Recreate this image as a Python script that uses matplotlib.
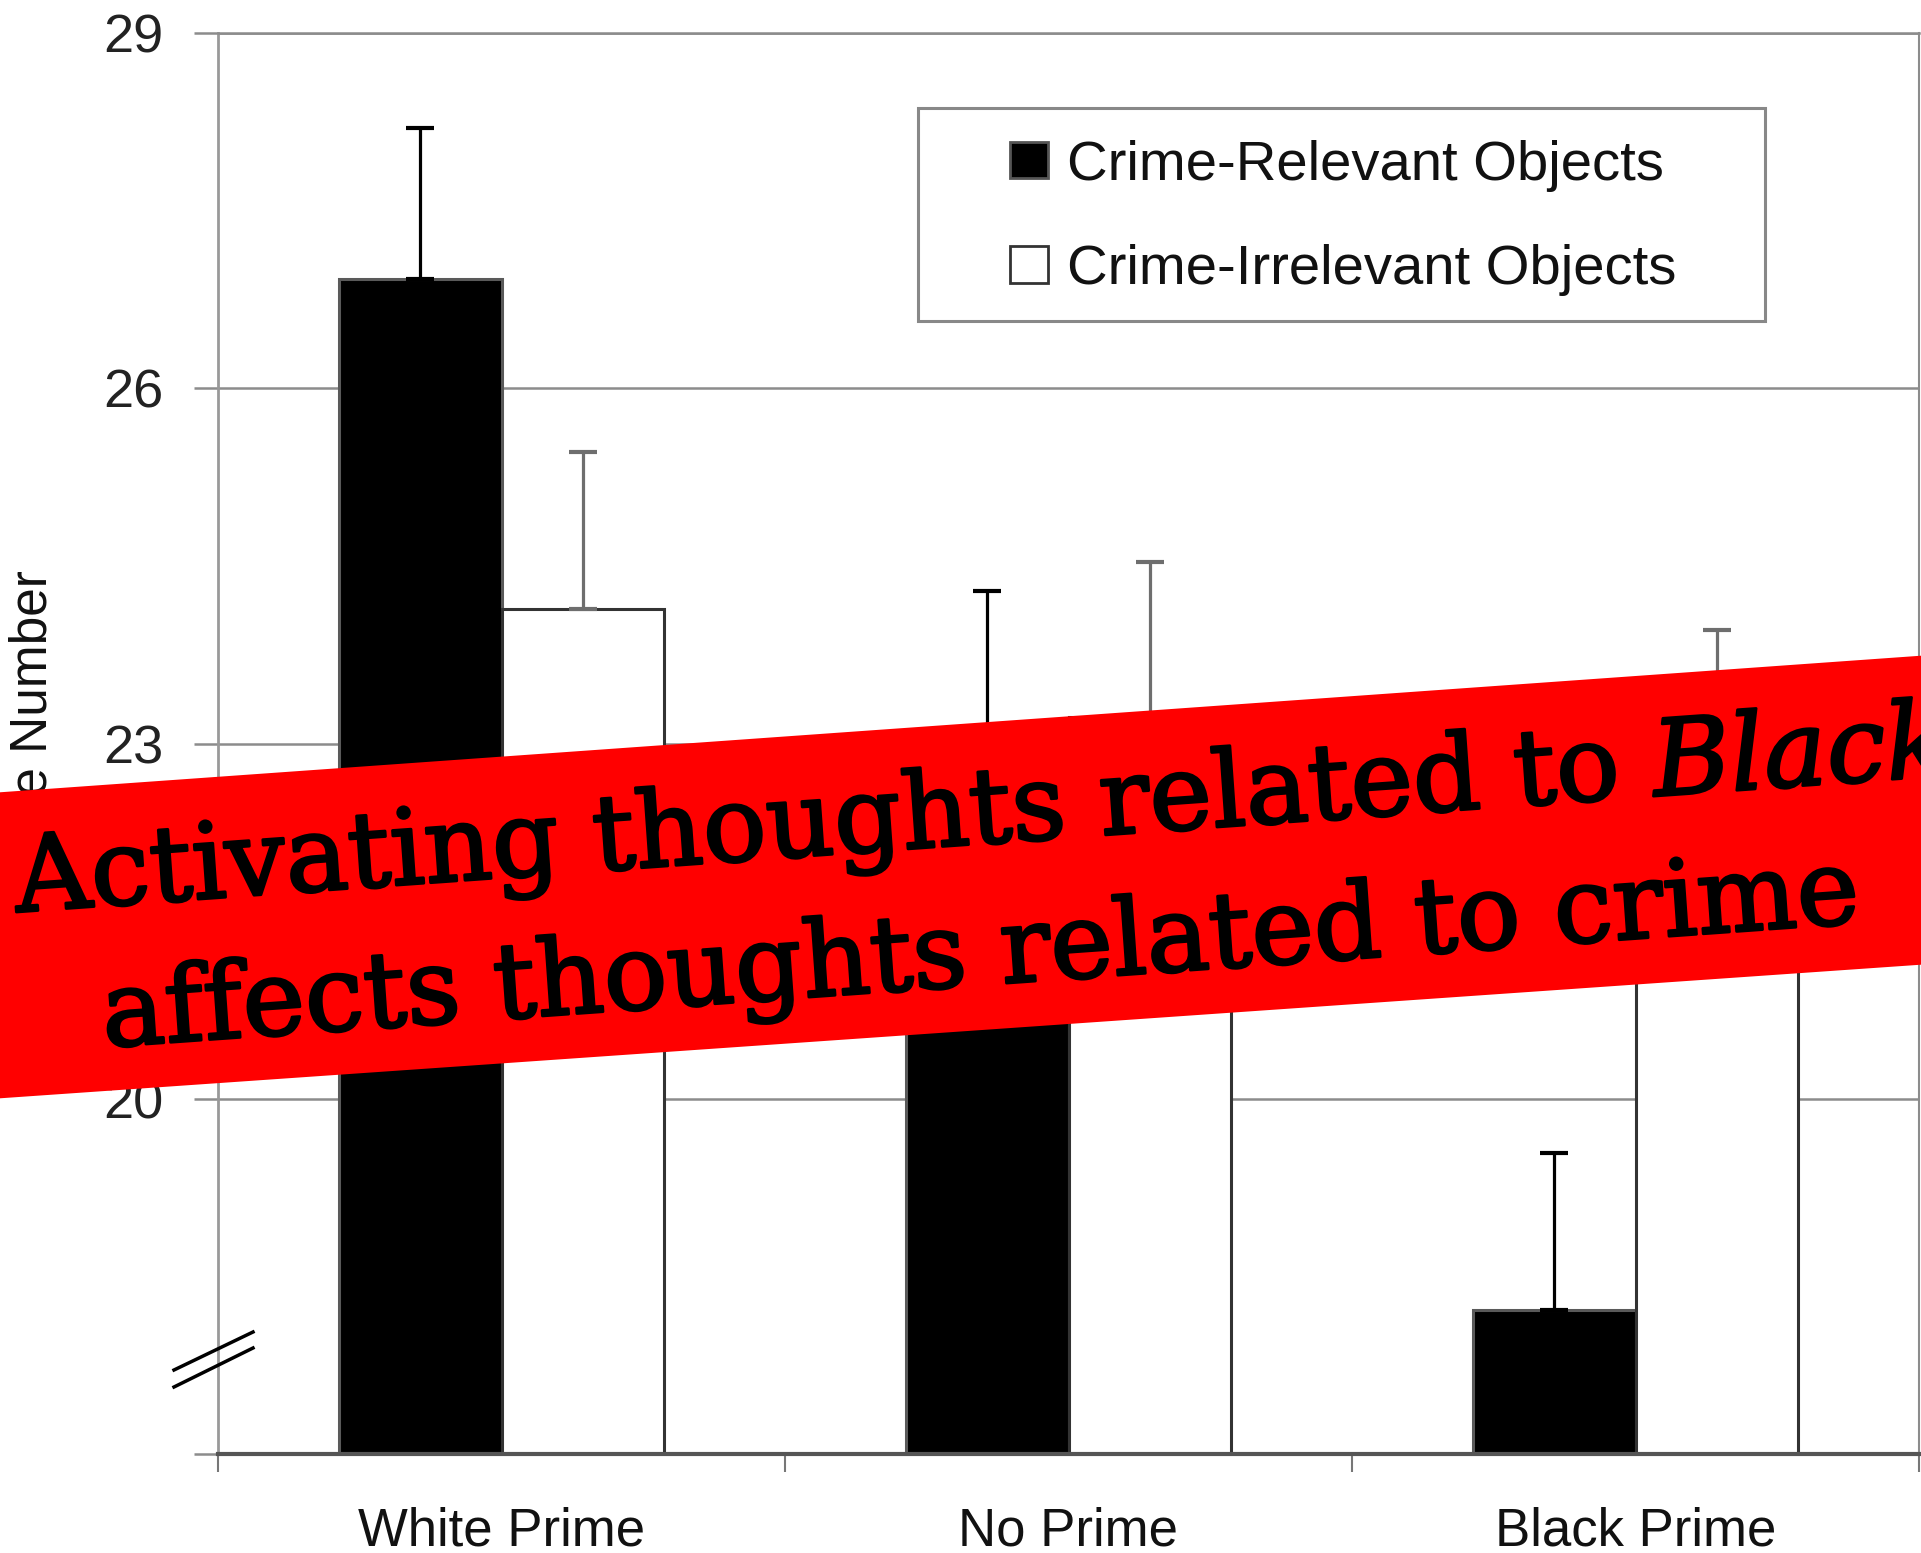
import math
import numpy as np
import matplotlib
matplotlib.use('Agg')
import matplotlib.pyplot as plt
import matplotlib.patheffects as pe
from matplotlib.patches import Patch, Polygon, Rectangle
from matplotlib.lines import Line2D

# Frame counts per prime condition
categories = ['White Prime', 'No Prime', 'Black Prime']
relevant = [26.92, 22.90, 18.22]
relevant_err = [1.28, 1.39, 1.32]
irrelevant = [24.14, 23.22, 22.65]
irrelevant_err = [1.32, 1.31, 1.31]
series_labels = ['Crime-Relevant Objects', 'Crime-Irrelevant Objects']

y_ticks = [17, 20, 23, 26, 29]
y_tick_labels = ['', '20', '23', '26', '29']
y_label = 'Mean Frame Number'

banner_lines = ['Activating thoughts related to $\\mathit{Black}$',
                'affects thoughts related to crime']

W, H = 1921, 1553


def fx(px):
    return px / W


def fy(py):
    return 1 - py / H


plt.rcParams['font.family'] = ['Liberation Sans', 'DejaVu Sans']
plt.rcParams['mathtext.fontset'] = 'custom'
plt.rcParams['mathtext.rm'] = 'DejaVu Serif'
plt.rcParams['mathtext.it'] = 'DejaVu Serif:italic'

fig = plt.figure(figsize=(W / 100, H / 100), dpi=100)
ax = fig.add_axes([fx(218), fy(1454), fx(1919) - fx(218), fy(33) - fy(1454)])

x = np.arange(len(categories))
w = 0.287

ax.bar(x - w / 2, relevant, w, color='black', edgecolor='#5a5a5a', linewidth=2.2, zorder=2)
ax.bar(x + w / 2, irrelevant, w, color='white', edgecolor='#333333', linewidth=2.2, zorder=2)

ax.errorbar(x - w / 2, relevant, yerr=[np.zeros(3), relevant_err], fmt='none',
            ecolor='black', elinewidth=2.3, capsize=10.4, capthick=3, zorder=3)
ax.errorbar(x + w / 2, irrelevant, yerr=[np.zeros(3), irrelevant_err], fmt='none',
            ecolor='#6e6e6e', elinewidth=2.3, capsize=10.4, capthick=3, zorder=3)

ax.set_xlim(-0.5, 2.5)
ax.set_ylim(17, 29)

ax.set_yticks(y_ticks, y_tick_labels)
ax.tick_params(axis='y', length=17.3, width=1.8, color='#8c8c8c', pad=21.6,
               labelsize=39, labelcolor='#222222')
ax.yaxis.grid(True, color='#8c8c8c', linewidth=1.8)
ax.set_axisbelow(True)

ax.set_xticks([-0.5, 0.5, 1.5, 2.5], ['', '', '', ''])
ax.set_xticks(x, categories, minor=True)
ax.tick_params(axis='x', which='major', length=13, width=1.5, color='#777777')
ax.tick_params(axis='x', which='minor', length=0, pad=38, labelsize=38, labelcolor='#111111')

ax.spines['top'].set_color('#8c8c8c')
ax.spines['top'].set_linewidth(1.8)
ax.spines['right'].set_color('#8c8c8c')
ax.spines['right'].set_linewidth(1.5)
ax.spines['left'].set_color('#999999')
ax.spines['left'].set_linewidth(2)
ax.spines['bottom'].set_color('#555555')
ax.spines['bottom'].set_linewidth(3)

fig.text(fx(33), fy(570), y_label, rotation=90, ha='center', va='top',
         fontsize=37, color='#111111', zorder=1)

# axis break marks on the y axis
for y0, y1 in [(1370, 1332), (1387, 1348)]:
    fig.add_artist(Line2D([fx(174), fx(253)], [fy(y0), fy(y1)], color='black',
                          linewidth=2.5, transform=fig.transFigure, zorder=1))

# legend with its own frame
fig.add_artist(Rectangle((fx(918), fy(321)), fx(1765) - fx(918), fy(108) - fy(321),
                         facecolor='white', edgecolor='#888888', linewidth=2.2,
                         transform=fig.transFigure, zorder=1))
handles = [Patch(facecolor='black', edgecolor='#555555', linewidth=2),
           Patch(facecolor='white', edgecolor='#333333', linewidth=2)]
leg = fig.legend(handles, series_labels, loc='upper left',
                 bbox_to_anchor=(fx(1010), fy(140)), frameon=False, fontsize=40.5,
                 handlelength=0.68, handleheight=0.62, handletextpad=0.33,
                 labelspacing=0.93, borderpad=0, borderaxespad=0)
leg.set_zorder(5)
for t in leg.get_texts():
    t.set_color('#111111')

# red banner across the chart
fig.add_artist(Polygon([(fx(-10), fy(793)), (fx(1931), fy(655)),
                        (fx(1931), fy(964)), (fx(-10), fy(1099))],
                       closed=True, facecolor='#ff0000', edgecolor='none',
                       transform=fig.transFigure, zorder=2))

angle = math.degrees(math.atan2(792 - 656, 1921))
stroke = [pe.withStroke(linewidth=2.0, foreground='black')]
fig.text(fx(17), fy(912), banner_lines[0], rotation=angle, rotation_mode='anchor',
         ha='left', va='baseline', fontsize=76, family='DejaVu Serif',
         color='black', zorder=3, path_effects=stroke)
fig.text(fx(104), fy(1047), banner_lines[1], rotation=angle, rotation_mode='anchor',
         ha='left', va='baseline', fontsize=76, family='DejaVu Serif',
         color='black', zorder=3, path_effects=stroke)

fig.savefig('out.png', dpi=100)
